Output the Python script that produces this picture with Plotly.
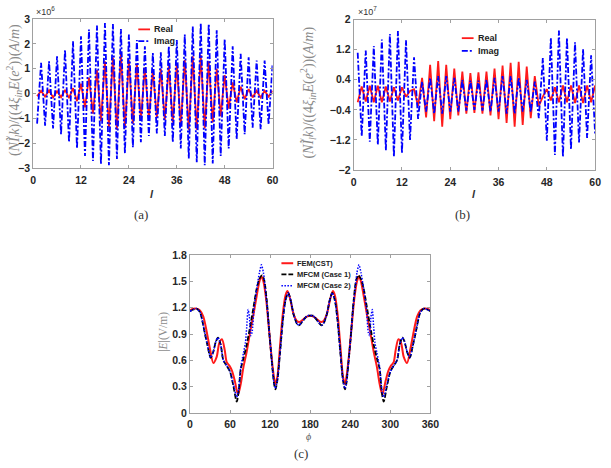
import plotly.graph_objects as go

# ---------------- data ----------------
# (a) values shown in units of 1e6
l_a = list(range(1, 61))
real_a = [-0.10, 0.12, -0.12, 0.14, -0.15, 0.10, -0.14, 0.15, -0.18, 0.22,
          -0.30, 0.40, -0.55, 0.65, -0.80, 0.95, -1.10, 1.30, -1.35, 1.45,
          -1.45, 1.60, -1.40, 1.35, -1.20, 1.20, -1.05, 1.05, -1.00, 0.95,
          -0.95, 1.00, -1.05, 1.10, -1.15, 1.20, -1.30, 1.35, -1.45, 1.50,
          -1.45, 1.55, -1.40, 1.30, -1.15, 1.00, -0.90, 0.75, -0.60, 0.45,
          -0.35, 0.28, -0.22, 0.18, -0.15, 0.12, -0.15, 0.12, -0.12, 0.12]
imag_a = [-1.20, 1.24, -1.28, 1.30, -1.40, 1.50, -1.63, 1.76, -1.95, 2.10,
          -2.20, 2.30, -2.50, 2.58, -2.70, 2.74, -2.83, 2.84, -2.87, 2.80,
          -2.62, 2.60, -2.40, 2.37, -2.15, 2.15, -1.95, 1.90, -1.70, 1.63,
          -1.60, 1.66, -1.70, 1.90, -1.95, 2.15, -2.20, 2.37, -2.60, 2.70,
          -2.75, 2.84, -2.87, 2.80, -2.80, 2.55, -2.50, 2.20, -2.20, 1.90,
          -1.83, 1.60, -1.63, 1.46, -1.37, 1.33, -1.43, 1.33, -1.24, 1.20]

# (b) values shown in units of 1e7
l_b = list(range(1, 61))
real_b = [-0.20, 0.22, -0.18, 0.24, -0.20, 0.24, -0.20, 0.22, -0.18, 0.20,
          -0.15, 0.20, -0.05, 0.10, 0.15, -0.30, 0.45, -0.60, 0.80, -0.70,
          0.90, -0.85, 0.80, -0.65, 0.70, -0.55, 0.62, -0.50, 0.58, -0.48,
          0.60, -0.50, 0.62, -0.55, 0.70, -0.65, 0.78, -0.75, 0.85, -0.85,
          0.88, -0.80, 0.75, -0.62, 0.50, -0.30, -0.05, 0.15, -0.15, 0.20,
          -0.20, 0.25, -0.20, 0.25, -0.22, 0.25, -0.22, 0.25, -0.20, 0.25]
imag_b = [1.12, -1.10, 1.18, -1.25, 1.30, -1.33, 1.47, -1.48, 1.62, -1.65,
          1.70, -1.55, 1.45, -1.20, 1.00, -0.64, 0.35, -0.45, 0.45, -0.50,
          0.50, -0.50, 0.50, -0.45, 0.45, -0.45, 0.40, -0.42, 0.38, -0.40,
          0.38, -0.42, 0.40, -0.45, 0.45, -0.45, 0.50, -0.50, 0.50, -0.50,
          0.45, -0.45, 0.40, -0.45, 0.35, -0.62, 0.98, -1.22, 1.52, -1.60,
          1.71, -1.65, 1.52, -1.45, 1.40, -1.27, 1.22, -1.15, 1.05, -1.05]

# (c) |E| versus phi
phi_fem = [0, 5, 10, 15, 20, 25, 30, 35, 40, 44, 48, 52, 55, 59, 63, 67, 72, 76, 80, 85,
           90, 95, 100, 104, 107, 110, 114, 118, 121, 125, 128, 131, 135, 139, 143, 146,
           150, 155, 160, 165, 170, 175, 180, 185, 190, 195, 200, 205, 210, 214, 217, 221,
           225, 229, 232, 235, 239, 242, 246, 250, 253, 256, 260, 265, 270, 275, 280, 284,
           288, 293, 297, 301, 305, 308, 312, 316, 320, 325, 330, 335, 340, 345, 350, 355, 360]
e_fem = [1.17, 1.19, 1.19, 1.17, 1.10, 0.93, 0.73, 0.57, 0.64, 0.80, 0.84, 0.72, 0.58, 0.54,
         0.48, 0.37, 0.21, 0.33, 0.52, 0.70, 0.92, 1.12, 1.34, 1.50, 1.56, 1.50, 1.30, 0.98,
         0.73, 0.45, 0.33, 0.42, 0.78, 1.13, 1.34, 1.39, 1.30, 1.13, 1.05, 1.04, 1.07, 1.10,
         1.11, 1.10, 1.07, 1.04, 1.05, 1.13, 1.30, 1.39, 1.34, 1.13, 0.78, 0.42, 0.33, 0.45,
         0.73, 0.98, 1.30, 1.50, 1.56, 1.50, 1.34, 1.12, 0.92, 0.70, 0.52, 0.33, 0.21, 0.37,
         0.48, 0.54, 0.58, 0.72, 0.84, 0.80, 0.64, 0.57, 0.73, 0.93, 1.10, 1.17, 1.19, 1.19, 1.17]

phi_c1 = [0, 5, 10, 15, 18, 22, 26, 31, 35, 39, 42, 46, 50, 55, 60, 65, 70, 73, 76, 80,
          85, 90, 95, 100, 104, 108, 111, 115, 119, 123, 126, 128, 131, 135, 139, 143, 147,
          151, 155, 160, 163, 167, 172, 176, 180, 184, 188, 193, 197, 200, 205, 209, 213,
          217, 221, 225, 229, 232, 234, 237, 241, 245, 249, 252, 256, 260, 265, 270, 275,
          280, 284, 287, 290, 295, 300, 305, 310, 314, 318, 321, 325, 329, 334, 338, 342,
          345, 350, 355, 360]
e_c1 = [1.16, 1.18, 1.19, 1.15, 1.07, 0.92, 0.78, 0.63, 0.70, 0.82, 0.86, 0.78, 0.60, 0.54,
        0.47, 0.31, 0.13, 0.25, 0.50, 0.62, 0.78, 0.98, 1.20, 1.42, 1.53, 1.57, 1.52, 1.28,
        0.90, 0.55, 0.33, 0.27, 0.38, 0.70, 1.05, 1.28, 1.37, 1.28, 1.13, 1.02, 1.00, 1.03,
        1.08, 1.11, 1.11, 1.11, 1.08, 1.03, 1.00, 1.02, 1.13, 1.28, 1.37, 1.28, 1.05, 0.70,
        0.38, 0.27, 0.33, 0.55, 0.90, 1.28, 1.52, 1.57, 1.53, 1.42, 1.20, 0.98, 0.78, 0.62,
        0.50, 0.25, 0.13, 0.31, 0.47, 0.54, 0.60, 0.78, 0.86, 0.82, 0.70, 0.63, 0.78, 0.92,
        1.07, 1.15, 1.19, 1.18, 1.16]

phi_c2 = [0, 5, 10, 15, 18, 22, 26, 31, 35, 39, 42, 46, 50, 55, 60, 65, 70, 73, 76, 80,
          83, 85, 87, 89, 91, 93, 96, 100, 104, 107, 110, 113, 116, 119, 123, 126, 128, 131,
          135, 139, 143, 147, 151, 155, 160, 163, 167, 172, 176, 180, 184, 188, 193, 197,
          200, 205, 209, 213, 217, 221, 225, 229, 232, 234, 237, 241, 244, 247, 250, 253,
          256, 260, 264, 267, 269, 271, 273, 275, 277, 280, 284, 287, 290, 295, 300, 305,
          310, 314, 318, 321, 325, 329, 334, 338, 342, 345, 350, 355, 360]
e_c2 = [1.16, 1.18, 1.19, 1.15, 1.07, 0.92, 0.78, 0.63, 0.70, 0.82, 0.86, 0.78, 0.60, 0.54,
        0.47, 0.33, 0.18, 0.28, 0.52, 0.68, 0.80, 0.98, 1.18, 1.10, 0.88, 0.92, 1.20, 1.42,
        1.60, 1.69, 1.60, 1.40, 1.18, 0.90, 0.55, 0.33, 0.28, 0.38, 0.70, 1.05, 1.28, 1.37,
        1.28, 1.13, 1.02, 1.00, 1.03, 1.08, 1.11, 1.11, 1.11, 1.08, 1.03, 1.00, 1.02, 1.13,
        1.28, 1.37, 1.28, 1.05, 0.70, 0.38, 0.28, 0.33, 0.55, 0.90, 1.18, 1.40, 1.60, 1.69,
        1.60, 1.42, 1.20, 0.92, 0.88, 1.10, 1.18, 0.98, 0.80, 0.68, 0.52, 0.28, 0.18, 0.33,
        0.47, 0.54, 0.60, 0.78, 0.86, 0.82, 0.70, 0.63, 0.78, 0.92, 1.07, 1.15, 1.19, 1.18, 1.16]

ticks_ab_x = [0, 12, 24, 36, 48, 60]
ticks_a_y = [-3, -2, -1, 0, 1, 2, 3]
ticks_b_y = [-2, -1.2, -0.4, 0.4, 1.2, 2]
ticks_c_x = [0, 60, 120, 180, 240, 300, 360]
ticks_c_y = [0, 0.3, 0.6, 0.9, 1.2, 1.5, 1.8]

legend_a = ["Real", "Imag"]
legend_b = ["Real", "Imag"]
legend_c = ["FEM(CST)", "MFCM (Case 1)", "MFCM (Case 2)"]

# ---------------- figure ----------------
W, H = 611, 468
RED = "#ff1a1a"
BLUE = "#0000ff"
DASHDOT = "6px,2px,2px,2px"
SANS = "Liberation Sans, Arial"
serif = "Liberation Serif, DejaVu Serif, serif"

style_a = [dict(color=RED, width=1.8), dict(color=BLUE, width=1.8, dash=DASHDOT)]
style_c = [dict(color=RED, width=2),
           dict(color="black", width=1.8, dash="5px,2px"),
           dict(color=BLUE, width=1.5, dash="1.5px,1.5px")]

fig = go.Figure()

fig.add_trace(go.Scatter(x=l_a, y=real_a, mode="lines", name=legend_a[0], line=style_a[0], xaxis="x", yaxis="y"))
fig.add_trace(go.Scatter(x=l_a, y=imag_a, mode="lines", name=legend_a[1], line=style_a[1], xaxis="x", yaxis="y"))
fig.add_trace(go.Scatter(x=l_b, y=real_b, mode="lines", name=legend_b[0], line=style_a[0], xaxis="x2", yaxis="y2"))
fig.add_trace(go.Scatter(x=l_b, y=imag_b, mode="lines", name=legend_b[1], line=style_a[1], xaxis="x2", yaxis="y2"))
fig.add_trace(go.Scatter(x=phi_fem, y=e_fem, mode="lines", name=legend_c[0],
                         line=dict(**style_c[0], shape="spline", smoothing=0.8), xaxis="x3", yaxis="y3"))
fig.add_trace(go.Scatter(x=phi_c1, y=e_c1, mode="lines", name=legend_c[1],
                         line=dict(**style_c[1], shape="spline", smoothing=0.8), xaxis="x3", yaxis="y3"))
fig.add_trace(go.Scatter(x=phi_c2, y=e_c2, mode="lines", name=legend_c[2],
                         line=dict(**style_c[2], shape="spline", smoothing=0.6), xaxis="x3", yaxis="y3"))


def px(x):
    return x / W


def py(y):
    return 1 - y / H


tickfont = dict(family=SANS, size=10.5, color="#262626", weight="bold")
axcommon = dict(showline=True, linecolor="#a0a0a0", linewidth=1, mirror="ticks",
                ticks="inside", ticklen=3, tickcolor="#a0a0a0", showgrid=False,
                zeroline=False, tickfont=tickfont)

fig.update_layout(
    width=W, height=H, margin=dict(l=0, r=0, t=0, b=0),
    paper_bgcolor="white", plot_bgcolor="white", showlegend=False,
    xaxis=dict(domain=[px(30.7), px(275)], range=[0, 60], tickvals=ticks_ab_x, anchor="y",
               ticklabelstandoff=2, **axcommon),
    yaxis=dict(domain=[py(166.7), py(13.3)], range=[-3, 3], tickvals=ticks_a_y, anchor="x", **axcommon),
    xaxis2=dict(domain=[px(357.7), px(604)], range=[0, 60], tickvals=ticks_ab_x, anchor="y2",
                ticklabelstandoff=2, **axcommon),
    yaxis2=dict(domain=[py(168.3), py(14)], range=[-2, 2], tickvals=ticks_b_y, anchor="x2", **axcommon),
    xaxis3=dict(domain=[px(190.7), px(436)], range=[0, 360], tickvals=ticks_c_x, anchor="y3",
                ticklabelstandoff=1, **axcommon),
    yaxis3=dict(domain=[py(417.7), py(255.7)], range=[0, 1.8], tickvals=ticks_c_y, anchor="x3", **axcommon),
)

# manual legends (key line + label), placed in paper coordinates
shapes = []
ann = []


def add_legend(labels, styles, x_line0, x_line1, ys, fsize):
    for lab, st, yy in zip(labels, styles, ys):
        shapes.append(dict(type="line", xref="paper", yref="paper",
                           x0=px(x_line0), x1=px(x_line1), y0=py(yy), y1=py(yy),
                           line=dict(color=st["color"], width=st["width"], dash=st.get("dash", "solid"))))
        ann.append(dict(x=px(x_line1 + 2), y=py(yy), xanchor="left", text=lab,
                        font=dict(family=SANS, size=fsize, color="#222", weight="bold")))


add_legend(legend_a, style_a, 138, 150, [24, 36], 9)
add_legend(legend_b, style_a, 468, 480, [33, 46], 9)
add_legend(legend_c, style_c, 284, 296, [264, 275.5, 287], 7.5)

ylabel_ab = ("(<i>NĨ<sub>l</sub>k</i>)/((4<i>ξ<sub>in</sub>E</i>(<i>e</i><sup>2</sup>))(<i>A</i>/<i>m</i>)")
ann += [
    dict(x=px(11.5), y=py(86), text=ylabel_ab, textangle=-90, font=dict(family=serif, size=14, color="#8a8a8a")),
    dict(x=px(311), y=py(89), text=ylabel_ab, textangle=-90, font=dict(family=serif, size=14, color="#8a8a8a")),
    dict(x=px(163.5), y=py(334), text="|<i>E</i>|(V/m)", textangle=-90, font=dict(family=serif, size=11.5, color="#8a8a8a")),
    dict(x=px(152), y=py(193), text="<i>l</i>", font=dict(family=SANS, size=11, color="#333", weight="bold")),
    dict(x=px(480), y=py(193), text="<i>l</i>", font=dict(family=SANS, size=11, color="#333", weight="bold")),
    dict(x=px(312), y=py(442), text="<i>ϕ</i>", font=dict(family=serif, size=10, color="#555")),
    dict(x=px(32), y=py(5), xanchor="left", text="×10<sup>6</sup>", font=dict(family=SANS, size=9, color="#333")),
    dict(x=px(360), y=py(5), xanchor="left", text="×10<sup>7</sup>", font=dict(family=SANS, size=9, color="#333")),
    dict(x=px(141), y=py(214), text="(a)", font=dict(family=serif, size=13, color="#333")),
    dict(x=px(469), y=py(214), text="(b)", font=dict(family=serif, size=13, color="#333")),
    dict(x=px(304), y=py(459), text="(c)", font=dict(family=serif, size=13, color="#333")),
]
for a in ann:
    a.update(xref="paper", yref="paper", showarrow=False)
    a.setdefault("xanchor", "center")
    a.setdefault("yanchor", "middle")
fig.update_layout(annotations=ann, shapes=shapes)

fig.write_html("out.html")
